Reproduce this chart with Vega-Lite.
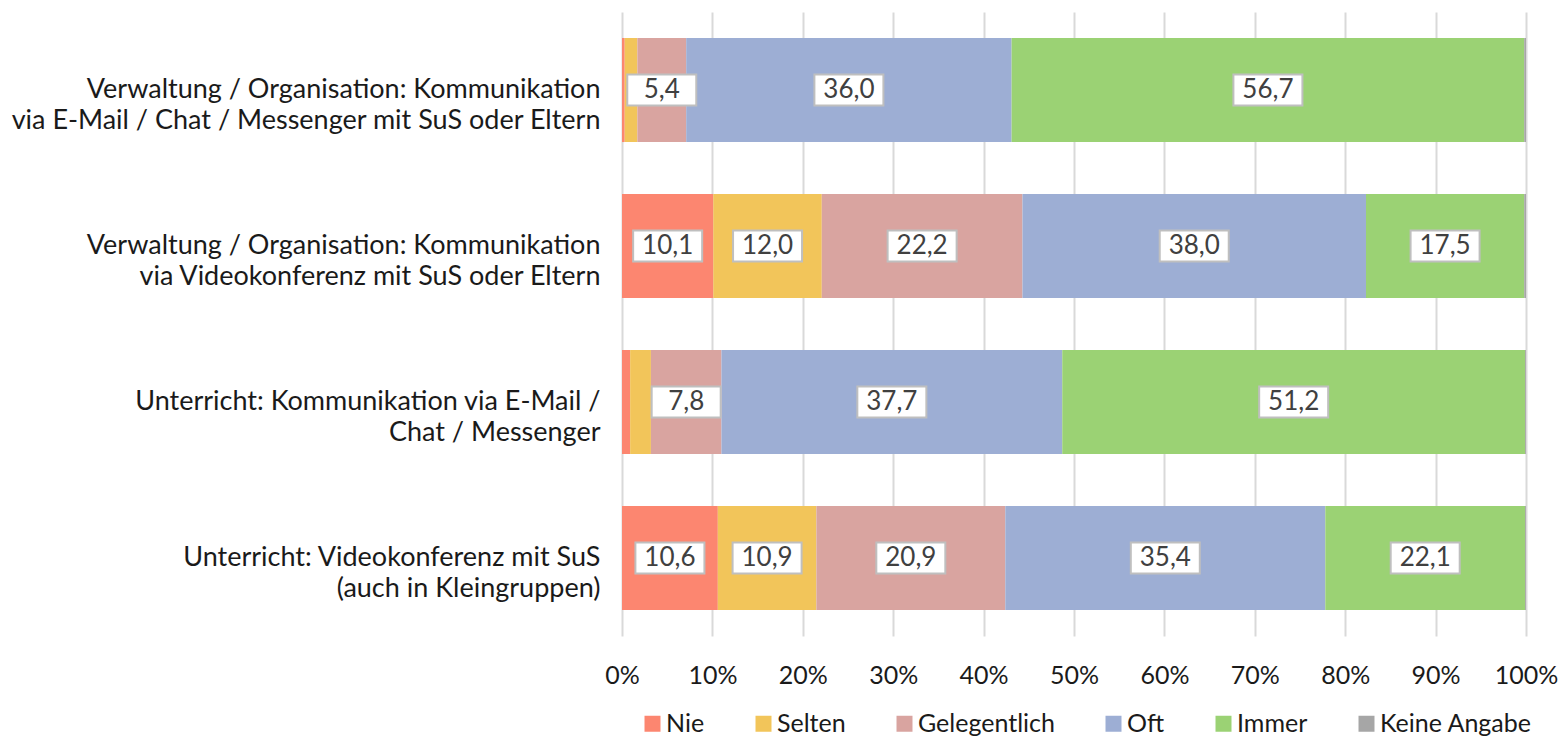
{
  "$schema": "https://vega.github.io/schema/vega-lite/v6.json",
  "width": 904,
  "height": 624,
  "autosize": {"type": "none"},
  "padding": {"left": 622, "top": 12, "right": 36, "bottom": 102},
  "background": "white",
  "config": {
    "view": {"stroke": null},
    "font": "Lato",
    "locale": {"number": {"decimal": ",", "thousands": ".", "grouping": [3], "currency": ["", " €"]}}
  },
  "data": {"values": [
    {"item": "Verwaltung / Organisation: Kommunikation|via E-Mail / Chat / Messenger mit SuS oder Eltern", "answer": "Nie", "o": 1, "value": 0.3},
    {"item": "Verwaltung / Organisation: Kommunikation|via E-Mail / Chat / Messenger mit SuS oder Eltern", "answer": "Selten", "o": 2, "value": 1.4},
    {"item": "Verwaltung / Organisation: Kommunikation|via E-Mail / Chat / Messenger mit SuS oder Eltern", "answer": "Gelegentlich", "o": 3, "value": 5.4},
    {"item": "Verwaltung / Organisation: Kommunikation|via E-Mail / Chat / Messenger mit SuS oder Eltern", "answer": "Oft", "o": 4, "value": 36.0},
    {"item": "Verwaltung / Organisation: Kommunikation|via E-Mail / Chat / Messenger mit SuS oder Eltern", "answer": "Immer", "o": 5, "value": 56.7},
    {"item": "Verwaltung / Organisation: Kommunikation|via E-Mail / Chat / Messenger mit SuS oder Eltern", "answer": "Keine Angabe", "o": 6, "value": 0.2},
    {"item": "Verwaltung / Organisation: Kommunikation|via Videokonferenz mit SuS oder Eltern", "answer": "Nie", "o": 1, "value": 10.1},
    {"item": "Verwaltung / Organisation: Kommunikation|via Videokonferenz mit SuS oder Eltern", "answer": "Selten", "o": 2, "value": 12.0},
    {"item": "Verwaltung / Organisation: Kommunikation|via Videokonferenz mit SuS oder Eltern", "answer": "Gelegentlich", "o": 3, "value": 22.2},
    {"item": "Verwaltung / Organisation: Kommunikation|via Videokonferenz mit SuS oder Eltern", "answer": "Oft", "o": 4, "value": 38.0},
    {"item": "Verwaltung / Organisation: Kommunikation|via Videokonferenz mit SuS oder Eltern", "answer": "Immer", "o": 5, "value": 17.5},
    {"item": "Verwaltung / Organisation: Kommunikation|via Videokonferenz mit SuS oder Eltern", "answer": "Keine Angabe", "o": 6, "value": 0.2},
    {"item": "Unterricht: Kommunikation via E-Mail /|Chat / Messenger ", "answer": "Nie", "o": 1, "value": 0.9},
    {"item": "Unterricht: Kommunikation via E-Mail /|Chat / Messenger ", "answer": "Selten", "o": 2, "value": 2.3},
    {"item": "Unterricht: Kommunikation via E-Mail /|Chat / Messenger ", "answer": "Gelegentlich", "o": 3, "value": 7.8},
    {"item": "Unterricht: Kommunikation via E-Mail /|Chat / Messenger ", "answer": "Oft", "o": 4, "value": 37.7},
    {"item": "Unterricht: Kommunikation via E-Mail /|Chat / Messenger ", "answer": "Immer", "o": 5, "value": 51.2},
    {"item": "Unterricht: Kommunikation via E-Mail /|Chat / Messenger ", "answer": "Keine Angabe", "o": 6, "value": 0.1},
    {"item": "Unterricht: Videokonferenz mit SuS|(auch in Kleingruppen)", "answer": "Nie", "o": 1, "value": 10.6},
    {"item": "Unterricht: Videokonferenz mit SuS|(auch in Kleingruppen)", "answer": "Selten", "o": 2, "value": 10.9},
    {"item": "Unterricht: Videokonferenz mit SuS|(auch in Kleingruppen)", "answer": "Gelegentlich", "o": 3, "value": 20.9},
    {"item": "Unterricht: Videokonferenz mit SuS|(auch in Kleingruppen)", "answer": "Oft", "o": 4, "value": 35.4},
    {"item": "Unterricht: Videokonferenz mit SuS|(auch in Kleingruppen)", "answer": "Immer", "o": 5, "value": 22.1},
    {"item": "Unterricht: Videokonferenz mit SuS|(auch in Kleingruppen)", "answer": "Keine Angabe", "o": 6, "value": 0.1}
  ]},
  "encoding": {
    "y": {
      "field": "item", "type": "nominal", "sort": null, "title": null,
      "scale": {"paddingInner": 0.333, "paddingOuter": 0.1667},
      "axis": {
        "domain": false, "ticks": false, "grid": false,
        "labelExpr": "split(datum.label, '|')",
        "labelFontSize": 27, "labelLineHeight": 31, "labelColor": "#1a1a1a",
        "labelPadding": 22, "labelLimit": 0, "labelAlign": "right", "labelBaseline": "middle"
      }
    }
  },
  "layer": [
    {
      "mark": {"type": "bar"},
      "encoding": {
        "x": {
          "field": "value", "type": "quantitative", "stack": "zero", "title": null,
          "scale": {"domain": [0, 100], "nice": false},
          "axis": {
            "values": [0, 10, 20, 30, 40, 50, 60, 70, 80, 90, 100],
            "labelExpr": "datum.value + '%'",
            "domain": false, "ticks": false, "labelFlush": false, "labelOverlap": false,
            "grid": true, "gridColor": "#D9D9D9", "gridWidth": 2,
            "labelFontSize": 25, "labelColor": "#1a1a1a", "labelPadding": 27
          }
        },
        "color": {
          "field": "answer", "type": "nominal",
          "sort": ["Nie", "Selten", "Gelegentlich", "Oft", "Immer", "Keine Angabe"],
          "scale": {
            "domain": ["Nie", "Selten", "Gelegentlich", "Oft", "Immer", "Keine Angabe"],
            "range": ["#FC8670", "#F2C55A", "#D9A4A0", "#9DAED4", "#9BD274", "#A6A6A6"]
          },
          "legend": {
            "title": null, "orient": "none", "direction": "horizontal",
            "legendX": 18, "legendY": 699, "padding": 0,
            "symbolType": "square", "symbolSize": 256, "symbolStrokeWidth": 0,
            "labelFontSize": 25, "labelColor": "#1a1a1a", "labelOffset": 1,
            "columnPadding": 46, "labelLimit": 0
          }
        },
        "order": {"field": "o", "type": "quantitative"}
      }
    },
    {
      "mark": {
        "type": "point", "filled": true, "fill": "white", "stroke": "#BFBFBF", "strokeWidth": 2,
        "size": 4761, "shape": "M-1,-0.449L1,-0.449L1,0.449L-1,0.449Z"
      },
      "encoding": {
        "x": {"field": "value", "type": "quantitative", "stack": "zero", "bandPosition": 0.5},
        "detail": {"field": "answer"},
        "order": {"field": "o", "type": "quantitative"},
        "opacity": {"condition": {"test": "datum.value >= 5", "value": 1}, "value": 0}
      }
    },
    {
      "mark": {"type": "text", "fontSize": 26, "color": "#404040", "align": "center", "baseline": "middle"},
      "encoding": {
        "x": {"field": "value", "type": "quantitative", "stack": "zero", "bandPosition": 0.5},
        "detail": {"field": "answer"},
        "order": {"field": "o", "type": "quantitative"},
        "text": {"condition": {"test": "datum.value >= 5", "field": "value", "type": "quantitative", "format": ".1f"}, "value": ""}
      }
    }
  ]
}
